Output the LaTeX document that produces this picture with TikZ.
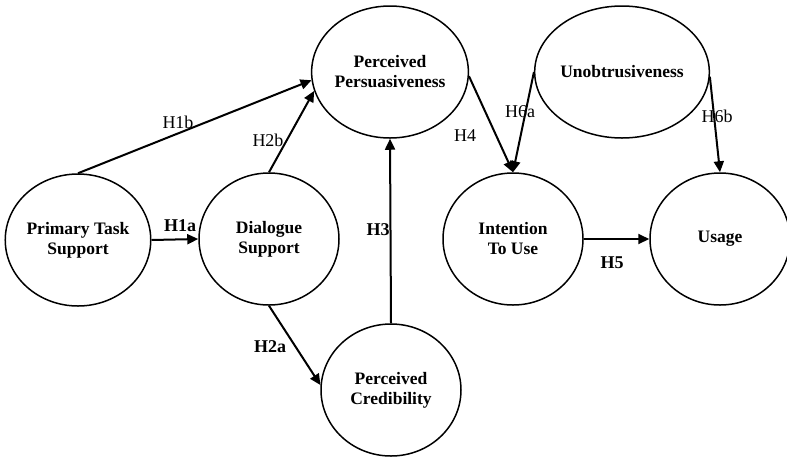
\documentclass[tikz,border=0pt]{standalone}
\usepackage{fontspec}
\setmainfont{Liberation Serif}
\usetikzlibrary{calc}
\usetikzlibrary{arrows.meta}
\usetikzlibrary{shapes.geometric}

\begin{document}
\begin{tikzpicture}[x=1pt, y=-1pt,
  construct/.style = {ellipse, draw, line width = 1.5pt, minimum width = 140pt, minimum height = 132pt, inner sep = 0, align = center, font = \fontsize{17.5}{20}\selectfont\bfseries},
  hyp/.style = {font = \fontsize{18}{20}\selectfont},
  hypb/.style = {font = \fontsize{18}{20}\selectfont\bfseries},
  path/.style = {line width = 2pt, -{Triangle[length = 11pt, width = 10pt]}}]

\useasboundingbox (0,0) rectangle (787,459);

\coordinate (n1) at (78,240);
\coordinate (n2) at (269,239);
\coordinate (n3) at (390,72);
\coordinate (n4) at (391,390);
\coordinate (n5) at (513,239);
\coordinate (n6) at (622,72);
\coordinate (n7) at (720,239);

\node[construct] (pts) at (n1) {Primary Task\\Support};
\node[construct] (ds) at (n2) {Dialogue\\Support};
\node[construct] (pp) at (n3) {Perceived\\Persuasiveness};
\node[construct] (pc) at (n4) {Perceived\\Credibility};
\node[construct] (itu) at (n5) {Intention\\To Use};
\node[construct] (unob) at (n6) {Unobtrusiveness};
\node[construct] (usage) at (n7) {Usage};

\draw[path] (pts.north) -- (pp.186);
\draw[path] (pts.east) -- (ds.west);
\draw[path] (ds.north) -- (pp.194);
\draw[path] (ds.south) -- (pc.176);
\draw[path] (pc.north) -- (pp.south);
\draw[path] (pp.-3) -- (itu.north);
\draw[path] (unob.west) -- (itu.north);
\draw[path] (unob.-3) -- (usage.north);
\draw[path] (itu.east) -- (usage.west);

\node[hyp] (h1b) at (178,122) {H1b};
\node[hypb] (h1a) at (180,226) {H1a};
\node[hyp] (h2b) at (268,140) {H2b};
\node[hypb] (h2a) at (270,347) {H2a};
\node[hypb] (h3) at (378,230) {H3};
\node[hyp] (h4) at (465,136) {H4};
\node[hyp] (h6a) at (520,112) {H6a};
\node[hyp] (h6b) at (717,116) {H6b};
\node[hypb] (h5) at (612,263) {H5};

\end{tikzpicture}
\end{document}
